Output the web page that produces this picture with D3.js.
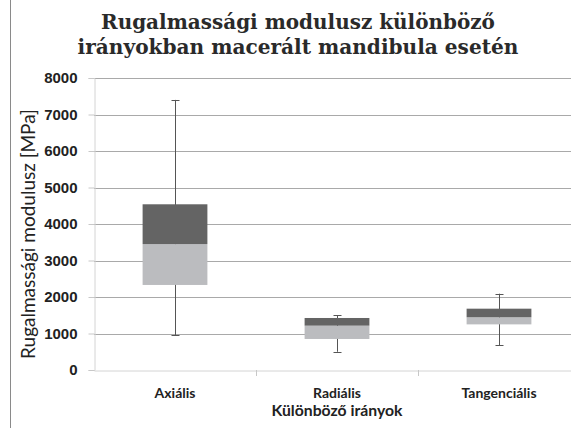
<!DOCTYPE html>
<html>
<head>
<meta charset="utf-8">
<script src="https://cdn.jsdelivr.net/npm/d3@7"></script>
<style>
  body { margin: 0; background: #fff; }
  svg { display: block; }
</style>
</head>
<body>
<script>
var categories = ["Axiális", "Radiális", "Tangenciális"];
var whiskerLow = [960, 500, 680];
var q1 = [2330, 850, 1250];
var median = [3450, 1215, 1445];
var q3 = [4540, 1425, 1680];
var whiskerHigh = [7400, 1505, 2090];
var yTicks = [0, 1000, 2000, 3000, 4000, 5000, 6000, 7000, 8000];

var width = 571,
    height = 428;

var svg = d3.select("body")
            .append("svg")
            .attr("width", width)
            .attr("height", height);

var boxes = categories.map(function(c, i) {
  return { name: c, lo: whiskerLow[i], q1: q1[i], med: median[i], q3: q3[i], hi: whiskerHigh[i] };
});

var x = d3.scaleBand()
          .domain(categories)
          .range([94, 580]);
var y = d3.scaleLinear()
          .domain([0, 8000])
          .range([370, 78]);

// frame line on the left
svg.append("line")
   .attr("x1", 10.5).attr("x2", 10.5)
   .attr("y1", 0).attr("y2", height)
   .attr("stroke", "#8a8a8a");

// grid
svg.append("g")
   .selectAll("line")
   .data(yTicks.filter(function(d){ return d > 0; }))
   .enter().append("line")
   .attr("x1", 94).attr("x2", 580)
   .attr("y1", function(d){ return Math.round(y(d)) + 0.5; })
   .attr("y2", function(d){ return Math.round(y(d)) + 0.5; })
   .attr("stroke", "#a9a9a9");

// y axis
var yAxis = svg.append("g")
   .attr("transform", "translate(94.5,0)")
   .call(d3.axisLeft(y).tickValues(yTicks).tickFormat(d3.format("d")).tickSize(6).tickPadding(11));
yAxis.select(".domain").attr("stroke", "#d4d4d4");
yAxis.selectAll(".tick line").attr("stroke", "#c8c8c8");
yAxis.selectAll("text")
   .attr("fill", "#222")
   .style("font-family", "Liberation Sans, Arial, sans-serif")
   .style("font-weight", "bold")
   .style("font-size", "15px");

// x axis
var xAxis = svg.append("g")
   .attr("transform", "translate(0,370.5)")
   .call(d3.axisBottom(x).tickSize(0).tickPadding(0));
xAxis.select(".domain").attr("stroke", "#d4d4d4");
xAxis.selectAll("text")
   .attr("fill", "#222")
   .attr("y", 27)
   .attr("dy", 0)
   .style("font-family", "Lato, sans-serif")
   .style("font-weight", "bold")
   .style("font-size", "14px");
svg.append("g")
   .selectAll("line")
   .data(categories.slice(1))
   .enter().append("line")
   .attr("x1", function(d){ return Math.round(x(d)) + 0.5; })
   .attr("x2", function(d){ return Math.round(x(d)) + 0.5; })
   .attr("y1", 370).attr("y2", 376)
   .attr("stroke", "#c8c8c8");

// whiskers
var bw = x.bandwidth() * 0.4;
var g = svg.append("g")
   .selectAll("g")
   .data(boxes)
   .enter().append("g")
   .attr("transform", function(d){ return "translate(" + (x(d.name) + x.bandwidth() / 2) + ",0)"; });

g.append("line")
   .attr("x1", 0.5).attr("x2", 0.5)
   .attr("y1", function(d){ return y(d.hi); })
   .attr("y2", function(d){ return y(d.lo); })
   .attr("stroke", "#555");
g.selectAll(".cap")
   .data(function(d){ return [d.hi, d.lo]; })
   .enter().append("line")
   .attr("class", "cap")
   .attr("x1", -3.5).attr("x2", 4.5)
   .attr("y1", function(v){ return Math.round(y(v)) + 0.5; })
   .attr("y2", function(v){ return Math.round(y(v)) + 0.5; })
   .attr("stroke", "#555");

// lower box (q1 - median)
g.append("rect")
   .attr("x", -bw / 2)
   .attr("width", bw)
   .attr("y", function(d){ return y(d.med); })
   .attr("height", function(d){ return y(d.q1) - y(d.med); })
   .attr("fill", "#bbbcbf");
// upper box (median - q3)
g.append("rect")
   .attr("x", -bw / 2)
   .attr("width", bw)
   .attr("y", function(d){ return y(d.q3); })
   .attr("height", function(d){ return y(d.med) - y(d.q3); })
   .attr("fill", "#646464");

// titles
function fit(sel, target) {
  var w = sel.node().getComputedTextLength();
  var fs = parseFloat(sel.style("font-size"));
  sel.style("font-size", (fs * target / w) + "px");
}
var t1 = svg.append("text")
   .attr("x", 298).attr("y", 29)
   .attr("text-anchor", "middle")
   .attr("fill", "#2a2a2a")
   .style("font-family", "DejaVu Serif, serif")
   .style("font-weight", "bold")
   .style("font-size", "20px")
   .text("Rugalmassági modulusz különböző");
fit(t1, 394);
var t2 = svg.append("text")
   .attr("x", 298).attr("y", 54)
   .attr("text-anchor", "middle")
   .attr("fill", "#2a2a2a")
   .style("font-family", "DejaVu Serif, serif")
   .style("font-weight", "bold")
   .style("font-size", "20px")
   .text("irányokban macerált mandibula esetén");
fit(t2, 441);

var xt = svg.append("text")
   .attr("x", 337).attr("y", 416)
   .attr("text-anchor", "middle")
   .attr("fill", "#222")
   .style("font-family", "Lato, sans-serif")
   .style("font-weight", "bold")
   .style("font-size", "14px")
   .text("Különböző irányok");
fit(xt, 131);

var yt = svg.append("text")
   .attr("transform", "translate(35,234) rotate(-90)")
   .attr("text-anchor", "middle")
   .attr("fill", "#222")
   .style("font-family", "Lato, sans-serif")
   .style("font-size", "14px")
   .text("Rugalmassági modulusz [MPa]");
fit(yt, 250);
</script>
</body>
</html>
